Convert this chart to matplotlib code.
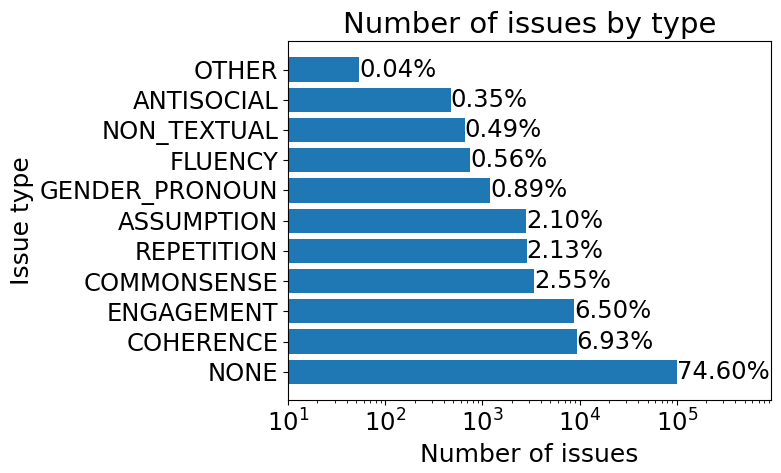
import matplotlib
matplotlib.use('Agg')
import matplotlib.pyplot as plt

issue_types = ['NONE', 'COHERENCE', 'ENGAGEMENT', 'COMMONSENSE', 'REPETITION',
               'ASSUMPTION', 'GENDER_PRONOUN', 'FLUENCY', 'NON_TEXTUAL',
               'ANTISOCIAL', 'OTHER']
counts = [100000, 9290, 8710, 3420, 2855, 2815, 1193, 750, 657, 469, 54]
pct_labels = ['74.60%', '6.93%', '6.50%', '2.55%', '2.13%', '2.10%',
              '0.89%', '0.56%', '0.49%', '0.35%', '0.04%']

fig, ax = plt.subplots(figsize=(7.81, 4.73), dpi=100)
fig.subplots_adjust(left=0.369, right=0.987, top=0.913, bottom=0.154)

bars = ax.barh(issue_types, counts, color='#1f77b4')
ax.set_xscale('log')
ax.set_xlim(10, 9.3e5)

for bar, lab in zip(bars, pct_labels):
    ax.text(bar.get_width(), bar.get_y() + bar.get_height() / 2, lab,
            va='center', ha='left', fontsize=17.5)

ax.set_title('Number of issues by type', fontsize=21)
ax.set_xlabel('Number of issues', fontsize=18)
ax.set_ylabel('Issue type', fontsize=18)
ax.tick_params(axis='both', labelsize=17.5)

fig.savefig('out.png', dpi=100)
